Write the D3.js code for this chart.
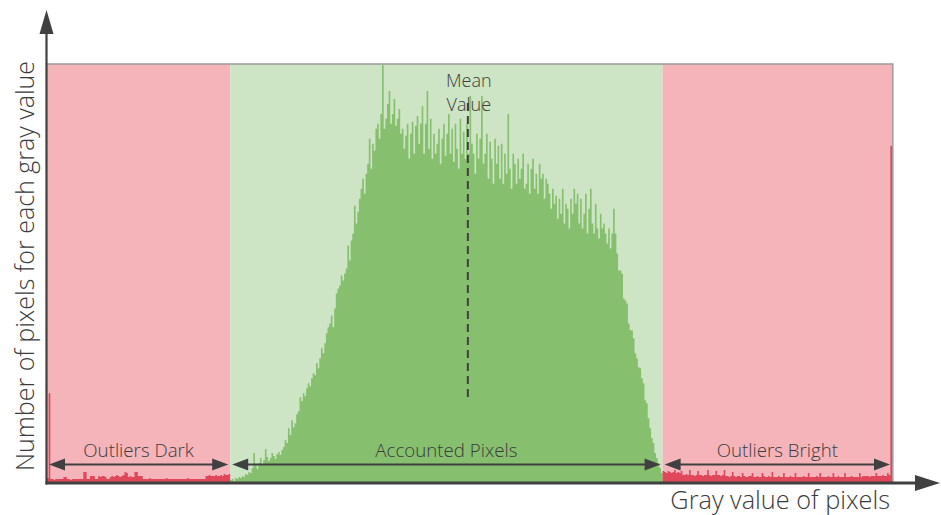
<!DOCTYPE html>
<html>
<head>
<meta charset="utf-8">
<script src="https://cdn.jsdelivr.net/npm/d3@7/dist/d3.min.js"></script>
<style>
  html, body { margin: 0; padding: 0; background: #fff; }
  svg { display: block; }
  text { font-family: "Open Sans", "Segoe UI", sans-serif; font-weight: 300; fill: #3c3c3c; }
</style>
</head>
<body>
<svg id="chart" width="941" height="515"></svg>
<script>
// Histogram settings: 512 gray levels, cut-offs and mean level
const grayLevels = 512;
const lowCut = 111;      // first accounted gray level
const highCut = 373;     // first bright outlier level
const meanLevel = 255;
const countMax = 4200;

// Pixel counts for gray levels 0 .. lowCut-1 (dark outliers)
const darkOutlierCounts = [
  50, 900,
  40, 40, 30, 40, 40, 40, 40, 40,
  60, 60,
  40, 40, 30, 40, 40, 40, 40, 40, 40, 40,
  110, 110,
  40, 40,
  70, 70, 70,
  40, 40,
  70, 60, 70, 70, 60,
  40, 40,
  60, 70, 60, 70, 80, 70, 60, 70, 80,
  110, 100,
  60, 70, 60, 60,
  110, 110,
  70, 70, 70,
  40, 40, 40, 40, 50, 40, 40, 40, 40, 40, 40, 40, 40, 40, 50, 40, 40, 40, 40,
  40, 40, 40, 40, 40, 40, 40, 40, 50, 40, 40, 40, 40, 40, 40, 40, 40, 40, 40,
  70, 70, 80, 70, 70, 70, 80, 70, 70, 80, 70, 90, 80, 80, 90
];

// Pixel counts for gray levels lowCut .. highCut-1 (accounted pixels)
const accountedCounts = [
  30, 40, 20, 50, 40, 60, 50,
  70, 60, 90, 80, 110, 100,
  150, 300, 180, 140, 200, 250, 190,
  230, 340, 260, 220, 250, 300, 270, 240, 290, 310, 280, 330, 360, 430,
  400, 550, 480, 630, 560, 600, 690, 720, 860,
  820, 900, 870, 950, 1000, 970, 1050, 1100,
  1080, 1200, 1150, 1250, 1350, 1300, 1400, 1500, 1560,
  1600, 1680, 1560, 1750, 1900, 1950,
  1980, 2080, 2030, 2100, 2150, 2380, 2230, 2430,
  2500, 2780, 2600, 2720, 2850,
  2950, 3050, 2900, 3100,
  3200, 3450, 3150, 3400, 3330, 3550,
  3600, 3450, 3700, 4190, 3550, 3650,
  3800, 3930, 3600, 3700, 3850, 3580, 3650, 3750, 3500,
  3550, 3350, 3480, 3600, 3250, 3500, 3620, 3300, 3580, 3680,
  3400, 3600, 3780, 3300, 3600, 3930, 3350, 3650, 3250,
  3500, 3300, 3400, 3550, 3200, 3450, 3600, 3280, 3500, 3700, 3300, 3550,
  3220, 3600, 3350, 3150, 3650, 3300, 3520, 3250, 3600, 3300, 3880, 3400,
  3300, 3100, 3500, 3250, 3450, 3880, 3200, 3300, 3500, 3050, 3420, 3250, 3000,
  3450, 3200, 3380, 3050, 3400, 3000, 3300, 3100, 3700, 3150, 2950, 3300,
  3200, 3000, 3250, 3050, 3150, 3300, 2950, 3000, 3200, 2900, 3150,
  3250, 2950, 3100, 2900, 3200, 3050, 3100, 2850, 3050, 3000,
  2900, 2750, 2950, 2800, 2880, 2650, 2850, 2700, 2950, 2600, 2800,
  2750, 2550, 2850, 2700, 2950, 2800, 2900, 2600, 2850, 2550, 2700,
  2900, 2500, 2750, 2950, 2600, 2500, 2800, 2550, 2450, 2700, 2550,
  2600, 2500, 2400, 2550, 2350, 2500,
  2750, 2500, 2300, 2130, 2130,
  2100, 1850, 1830, 1800, 1600,
  1530, 1530, 1450, 1300, 1250,
  1160, 1150, 1050,
  1000, 830, 800, 650, 550, 450,
  400, 300, 250, 200, 150, 100
];

// Pixel counts for gray levels highCut .. grayLevels-1 (bright outliers)
const brightOutlierCounts = [
  120, 110, 100, 120, 110, 100, 110, 130, 100, 110, 100, 120,
  80, 80, 90, 80, 130, 80, 80, 70, 80, 120, 80, 80, 70,
  80, 80, 130, 80, 70, 80, 80, 120, 80, 80, 70, 80, 130,
  70, 70, 60, 70, 110, 70, 60, 70, 70, 60, 100, 70, 60, 60, 70,
  70, 100, 60, 60, 70, 60, 60, 100, 70, 60, 60, 70, 60, 110, 60,
  60, 60, 70, 60, 60, 100, 60, 60, 60, 70, 60, 60, 100, 60, 60,
  60, 60, 70, 60, 60, 100, 60, 60, 60, 60, 70, 60, 100, 60, 60,
  60, 60, 70, 60, 60, 100, 60, 60, 70, 60, 60, 60, 100, 60, 60, 60, 70, 60, 60, 60,
  60, 100, 60, 70, 70, 70, 70, 60, 70, 70, 70, 100, 70, 70, 70, 80, 70, 70, 100,
  80, 3380
];

// Text
const regionLabels = ["Outliers Dark", "Accounted Pixels", "Outliers Bright"];
const meanLabel = ["Mean", "Value"];
const xAxisTitle = "Gray value of pixels";
const yAxisTitle = "Number of pixels for each gray value";

// Colours
const redBg = "#f5b4ba", greenBg = "#cde4c5";
const redBar = "#e0475a", greenBar = "#86bf6e";
const inkColor = "#404040";

const svg = d3.select("#chart");
const plot = { left: 47, right: 892, top: 64, bottom: 483 };

const x = d3.scaleLinear().domain([0, grayLevels]).range([plot.left, plot.right]);
const y = d3.scaleLinear().domain([0, countMax]).range([plot.bottom, plot.top]);

// Region backgrounds
const regions = [
  { from: 0, to: lowCut, fill: redBg },
  { from: lowCut, to: highCut, fill: greenBg },
  { from: highCut, to: grayLevels, fill: redBg }
];
svg.append("g").selectAll("rect").data(regions).join("rect")
  .attr("x", d => x(d.from))
  .attr("width", d => x(d.to) - x(d.from))
  .attr("y", plot.top)
  .attr("height", plot.bottom - plot.top)
  .attr("fill", d => d.fill);

// Histogram drawn as stepped areas, one per segment
const toBins = (counts, start) => {
  const b = counts.map((c, i) => ({ level: start + i, count: c }));
  b.push({ level: start + counts.length, count: counts[counts.length - 1] });
  return b;
};
const segments = [
  { bins: toBins(darkOutlierCounts, 0), fill: redBar },
  { bins: toBins(accountedCounts, lowCut), fill: greenBar },
  { bins: toBins(brightOutlierCounts, highCut), fill: redBar }
];
const histArea = d3.area()
  .curve(d3.curveStepAfter)
  .x(d => x(d.level))
  .y0(y(0))
  .y1(d => y(d.count));
svg.append("g").selectAll("path").data(segments).join("path")
  .attr("d", d => histArea(d.bins))
  .attr("fill", d => d.fill);

// Frame (top and right)
svg.append("path")
  .attr("d", `M${plot.left},${plot.top}H${plot.right + 0.8}V${plot.bottom}`)
  .attr("fill", "none")
  .attr("stroke", "#9b9b9b")
  .attr("stroke-width", 1.5);

// Mean line
svg.append("line")
  .attr("x1", x(meanLevel)).attr("x2", x(meanLevel))
  .attr("y1", y(3810)).attr("y2", y(820))
  .attr("stroke", inkColor)
  .attr("stroke-width", 2)
  .attr("stroke-dasharray", "8,5");

svg.append("g").selectAll("text").data(meanLabel).join("text")
  .attr("x", x(meanLevel) + 1)
  .attr("y", (d, i) => 87 + i * 24)
  .attr("text-anchor", "middle")
  .attr("font-size", 18)
  .text(d => d);

// Double-headed range arrows with labels
function doubleArrow(x1, x2, yy) {
  const g = svg.append("g");
  const head = 16, half = 6;
  g.append("line")
    .attr("x1", x1 + head - 2).attr("x2", x2 - head + 2)
    .attr("y1", yy).attr("y2", yy)
    .attr("stroke", inkColor).attr("stroke-width", 1.8);
  g.append("path")
    .attr("d", `M${x1},${yy}L${x1 + head},${yy - half}L${x1 + head},${yy + half}Z`)
    .attr("fill", inkColor);
  g.append("path")
    .attr("d", `M${x2},${yy}L${x2 - head},${yy - half}L${x2 - head},${yy + half}Z`)
    .attr("fill", inkColor);
}
const spans = [[0, lowCut], [lowCut, highCut], [highCut, grayLevels]];
spans.forEach((s, i) => {
  const a = x(s[0]) + 2, b = x(s[1]) - 2;
  doubleArrow(a, b, 464.5);
  svg.append("text")
    .attr("x", (a + b) / 2)
    .attr("y", 457)
    .attr("text-anchor", "middle")
    .attr("font-size", 18.7)
    .text(regionLabels[i]);
});

// Axes with arrow heads
svg.append("line")
  .attr("x1", 46.5).attr("x2", 46.5)
  .attr("y1", plot.bottom + 1.5).attr("y2", 30)
  .attr("stroke", inkColor).attr("stroke-width", 2.2);
svg.append("path")
  .attr("d", "M46.5,10L53.5,34L39.5,34Z")
  .attr("fill", inkColor);

svg.append("line")
  .attr("x1", 45.5).attr("x2", 920)
  .attr("y1", plot.bottom).attr("y2", plot.bottom)
  .attr("stroke", inkColor).attr("stroke-width", 3);
svg.append("path")
  .attr("d", `M940,${plot.bottom}L915,${plot.bottom - 8}L915,${plot.bottom + 8}Z`)
  .attr("fill", inkColor);

// Axis titles
svg.append("text")
  .attr("x", 890).attr("y", 509)
  .attr("text-anchor", "end")
  .attr("font-size", 25.3)
  .text(xAxisTitle);

svg.append("text")
  .attr("transform", "translate(34,266) rotate(-90)")
  .attr("text-anchor", "middle")
  .attr("font-size", 25)
  .text(yAxisTitle);
</script>
</body>
</html>
